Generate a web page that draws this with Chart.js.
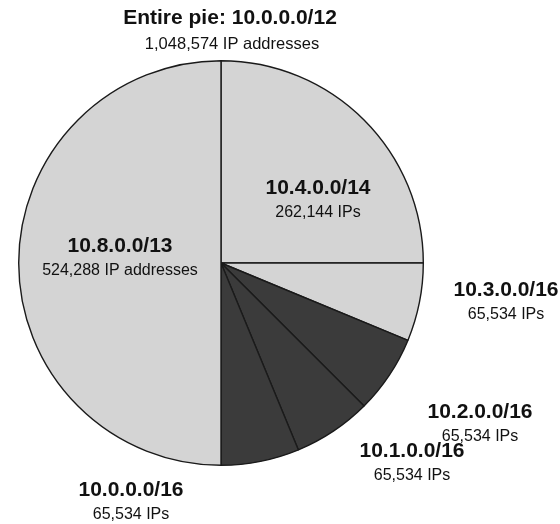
<!DOCTYPE html>
<html>
<head>
<meta charset="utf-8">
<script src="https://cdn.jsdelivr.net/npm/chart.js@4.4.1/dist/chart.umd.min.js"></script>
<style>
  html, body { margin: 0; padding: 0; background: #fff; }
  #wrap { width: 560px; height: 524px; position: relative; }
</style>
</head>
<body>
<div id="wrap"><canvas id="pie"></canvas></div>
<script>
// slices, clockwise from 12 o'clock
const blocks = ['10.4.0.0/14', '10.3.0.0/16', '10.2.0.0/16', '10.1.0.0/16', '10.0.0.0/16', '10.8.0.0/13'];
const addrCounts = [262144, 65534, 65534, 65534, 65534, 524288];
const countText = ['262,144 IPs', '65,534 IPs', '65,534 IPs', '65,534 IPs', '65,534 IPs', '524,288 IP addresses'];
const pieTitle = 'Entire pie: 10.0.0.0/12';
const pieSubtitle = '1,048,574 IP addresses';

const LIGHT = '#d4d4d4', DARK = '#3b3b3b';
const sliceColors = [LIGHT, LIGHT, DARK, DARK, DARK, LIGHT];
const FONT = '"Liberation Sans", Arial, Helvetica, sans-serif';

// label block centres, offset from pie centre (px)
const labelOffsets = [[97, -63], [285, 39], [259, 161], [191, 200], [-90, 239], [-101, -5]];

const textLabels = {
  id: 'textLabels',
  afterDraw(chart) {
    const ctx = chart.ctx;
    const a = chart.getDatasetMeta(0).data[0];
    ctx.save();
    ctx.fillStyle = '#111';
    ctx.textAlign = 'center';
    ctx.textBaseline = 'middle';

    ctx.font = 'bold 21px ' + FONT;
    ctx.fillText(pieTitle, 230, 18);
    ctx.font = '16.5px ' + FONT;
    ctx.fillText(pieSubtitle, 232, 44);

    blocks.forEach((b, i) => {
      const x = a.x + labelOffsets[i][0];
      const y = a.y + labelOffsets[i][1];
      ctx.font = 'bold 21px ' + FONT;
      ctx.fillText(b, x, y - 12);
      ctx.font = '16px ' + FONT;
      ctx.fillText(countText[i], x, y + 13);
    });
    ctx.restore();
  }
};

new Chart(document.getElementById('pie'), {
  type: 'pie',
  data: {
    labels: blocks,
    datasets: [{
      data: addrCounts,
      backgroundColor: sliceColors,
      borderColor: '#1a1a1a',
      borderWidth: 1.4
    }]
  },
  options: {
    responsive: true,
    maintainAspectRatio: false,
    animation: false,
    layout: { padding: { top: 60, bottom: 58, left: 18, right: 136 } },
    plugins: {
      legend: { display: false },
      tooltip: { enabled: false }
    }
  },
  plugins: [textLabels]
});
</script>
</body>
</html>
